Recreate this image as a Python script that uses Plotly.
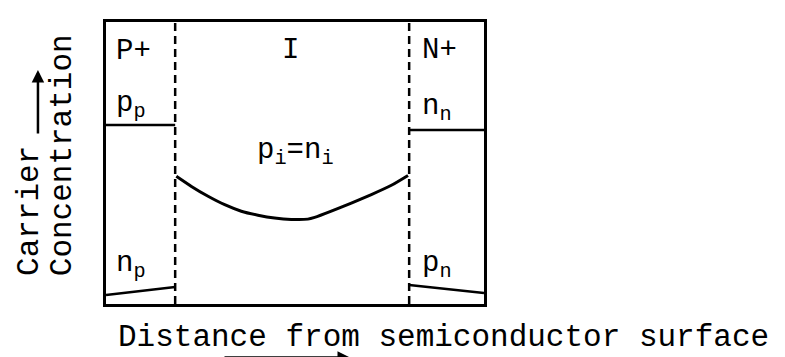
import plotly.graph_objects as go

# region boundaries (x) and carrier levels (y), box spans 0..10 on both axes
boundaries = [1.83, 8.02]
pp_x = [0.0, 1.83]
pp_y = [6.35, 6.35]
nn_x = [8.02, 10.0]
nn_y = [6.17, 6.17]
np_x = [0.0, 1.83]
np_y = [0.32, 0.60]
pn_x = [8.02, 10.0]
pn_y = [0.67, 0.39]
pi_x = [1.86, 2.26, 2.70, 3.14, 3.58, 4.02, 4.46, 4.90, 5.34, 5.52,
        5.96, 6.49, 7.02, 7.55, 7.99]
pi_y = [4.53, 4.17, 3.82, 3.52, 3.29, 3.15, 3.05, 3.00, 3.01, 3.07,
        3.29, 3.58, 3.88, 4.21, 4.56]

FONT = "Liberation Mono"

fig = go.Figure()

for xb in boundaries:
    fig.add_trace(go.Scatter(
        x=[xb, xb], y=[0, 10], mode="lines",
        line=dict(color="black", width=2.5, dash="8px,5px"),
        showlegend=False, hoverinfo="skip"
    ))

for xs, ys in [(pp_x, pp_y), (nn_x, nn_y), (np_x, np_y), (pn_x, pn_y)]:
    fig.add_trace(go.Scatter(
        x=xs, y=ys, mode="lines",
        line=dict(color="black", width=2.5),
        showlegend=False, hoverinfo="skip"
    ))

fig.add_trace(go.Scatter(
    x=pi_x, y=pi_y, mode="lines",
    line=dict(color="black", width=3, shape="spline", smoothing=0.5),
    showlegend=False, hoverinfo="skip"
))

labels = [
    ("P+", 0.2, 8.97, "left"),
    ("I", 4.89, 9.0, "center"),
    ("N+", 8.3, 9.0, "left"),
    ("p<sub>p</sub>", 0.2, 7.05, "left"),
    ("n<sub>n</sub>", 8.3, 6.95, "left"),
    ("p<sub>i</sub>=n<sub>i</sub>", 5.0, 5.4, "center"),
    ("n<sub>p</sub>", 0.2, 1.4, "left"),
    ("p<sub>n</sub>", 8.3, 1.4, "left"),
]
for txt, x, y, anchor in labels:
    fig.add_annotation(
        x=x, y=y, text=txt, showarrow=False, xanchor=anchor,
        font=dict(family=FONT, size=29, color="black")
    )

# axis titles as annotations
fig.add_annotation(
    xref="paper", yref="paper", x=-0.204, y=0.092, text="Carrier",
    textangle=-90, showarrow=False, xanchor="center", yanchor="bottom",
    font=dict(family=FONT, size=31, color="black")
)
fig.add_annotation(
    xref="paper", yref="paper", x=-0.116, y=0.092, text="Concentration",
    textangle=-90, showarrow=False, xanchor="center", yanchor="bottom",
    font=dict(family=FONT, size=31, color="black")
)
fig.add_annotation(
    xref="paper", yref="paper", x=-0.18, y=0.83, text="",
    showarrow=True, arrowhead=2, arrowsize=1, arrowwidth=2.5,
    arrowcolor="black", ax=0, ay=65
)
fig.add_annotation(
    xref="paper", yref="paper", x=0.0, y=-0.12, text="Distance from semiconductor surface",
    showarrow=False, xanchor="left", yanchor="middle", xshift=10,
    font=dict(family=FONT, size=31, color="black")
)
fig.add_annotation(
    xref="paper", yref="paper", x=0.6455, y=-0.19, text="",
    showarrow=True, arrowhead=2, arrowsize=1, arrowwidth=2.5,
    arrowcolor="black", ax=-127, ay=0
)

fig.update_xaxes(range=[0, 10], showline=True, mirror=True, linecolor="black",
                 linewidth=3, showgrid=False, zeroline=False, showticklabels=False,
                 ticks="")
fig.update_yaxes(range=[0, 10], showline=True, mirror=True, linecolor="black",
                 linewidth=3, showgrid=False, zeroline=False, showticklabels=False,
                 ticks="")

fig.update_layout(
    width=785, height=357,
    margin=dict(l=98, r=309, t=14, b=61),
    plot_bgcolor="white", paper_bgcolor="white",
    showlegend=False
)

fig.write_html("out.html")
